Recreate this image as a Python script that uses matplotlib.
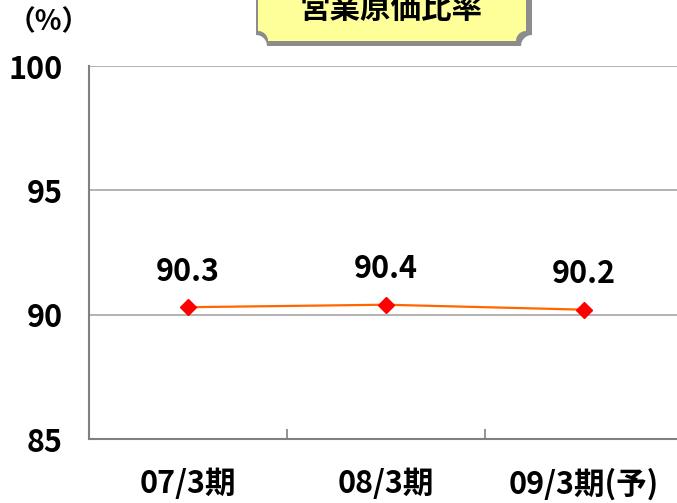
import matplotlib
matplotlib.use("Agg")
import matplotlib.pyplot as plt
import numpy as np
from matplotlib.path import Path
from matplotlib.patches import PathPatch

plt.rcParams['font.family'] = ['Noto Sans CJK JP', 'DejaVu Sans']

categories = ["07/3期", "08/3期", "09/3期(予)"]
values = [90.3, 90.4, 90.2]
labels = ["90.3", "90.4", "90.2"]
yticks = [85, 90, 95, 100]
title = "営業原価比率"
unit = "（%）"

W, H = 677, 503
fig = plt.figure(figsize=(W / 100, H / 100), dpi=100)

def fx(px):
    return px / W

def fy(py):
    return 1 - py / H

ax = fig.add_axes([fx(89), fy(439), fx(683) - fx(89), fy(66) - fy(439)])
x = np.arange(len(categories))
ax.plot(x, values, color="#FF6600", lw=1.6, zorder=3)
ax.plot(x, values, ls="none", marker="D", ms=8, color="#FF0000", zorder=4)
for xi, v, lab in zip(x, values, labels):
    ax.annotate(lab, (xi, v), xytext=(0, 14), textcoords="offset points",
                ha="center", va="bottom", fontsize=22, fontweight="bold")

ax.set_xlim(-0.5, len(categories) - 0.5)
ax.set_ylim(85, 100)
ax.set_yticks(yticks)
ax.set_yticklabels([str(t) for t in yticks], fontsize=22, fontweight="bold")
ax.set_xticks(x)
ax.set_xticklabels(categories, fontsize=22, fontweight="bold")
ax.tick_params(axis="y", length=0, pad=19)
ax.tick_params(axis="x", length=0, pad=21)
ax.set_xticks(np.arange(0.5, len(categories) - 0.5, 1), minor=True)
ax.tick_params(axis="x", which="minor", length=7, direction="in", color="#808080", width=1.2)
ax.grid(axis="y", color="#A6A6A6", lw=1.2)
ax.set_axisbelow(True)
for s in ["top", "right"]:
    ax.spines[s].set_visible(False)
for s in ["left", "bottom"]:
    ax.spines[s].set_color("#808080")
    ax.spines[s].set_linewidth(1.5)

fig.text(fx(8), fy(22), unit, fontsize=20, fontweight="bold", ha="left", va="center")

# title box with concave bottom corners
def box_path(l, r, t, b, rad):
    verts = [(l, t), (l, b - rad)]
    codes = [Path.MOVETO, Path.LINETO]
    for a in np.linspace(-np.pi / 2, 0, 10):
        verts.append((l + rad * np.cos(a), b + rad * np.sin(a)))
        codes.append(Path.LINETO)
    verts.append((r - rad, b))
    codes.append(Path.LINETO)
    for a in np.linspace(np.pi, 3 * np.pi / 2, 10):
        verts.append((r + rad * np.cos(a), b + rad * np.sin(a)))
        codes.append(Path.LINETO)
    verts.append((r, t))
    codes.append(Path.LINETO)
    verts.append((l, t))
    codes.append(Path.CLOSEPOLY)
    return Path([(fx(a), fy(b_)) for a, b_ in verts], codes)

shadow = PathPatch(box_path(256, 532, -10, 46, 11), transform=fig.transFigure,
                   facecolor="#8C8C8C", edgecolor="none")
fig.patches.append(shadow)
body = PathPatch(box_path(258, 526, -10, 41, 10), transform=fig.transFigure,
                 facecolor="#FFFF99", edgecolor="none")
fig.patches.append(body)
fig.text(fx(391), fy(9), title, fontsize=22, fontweight="bold", ha="center", va="center")

fig.savefig("out.png", dpi=100)
